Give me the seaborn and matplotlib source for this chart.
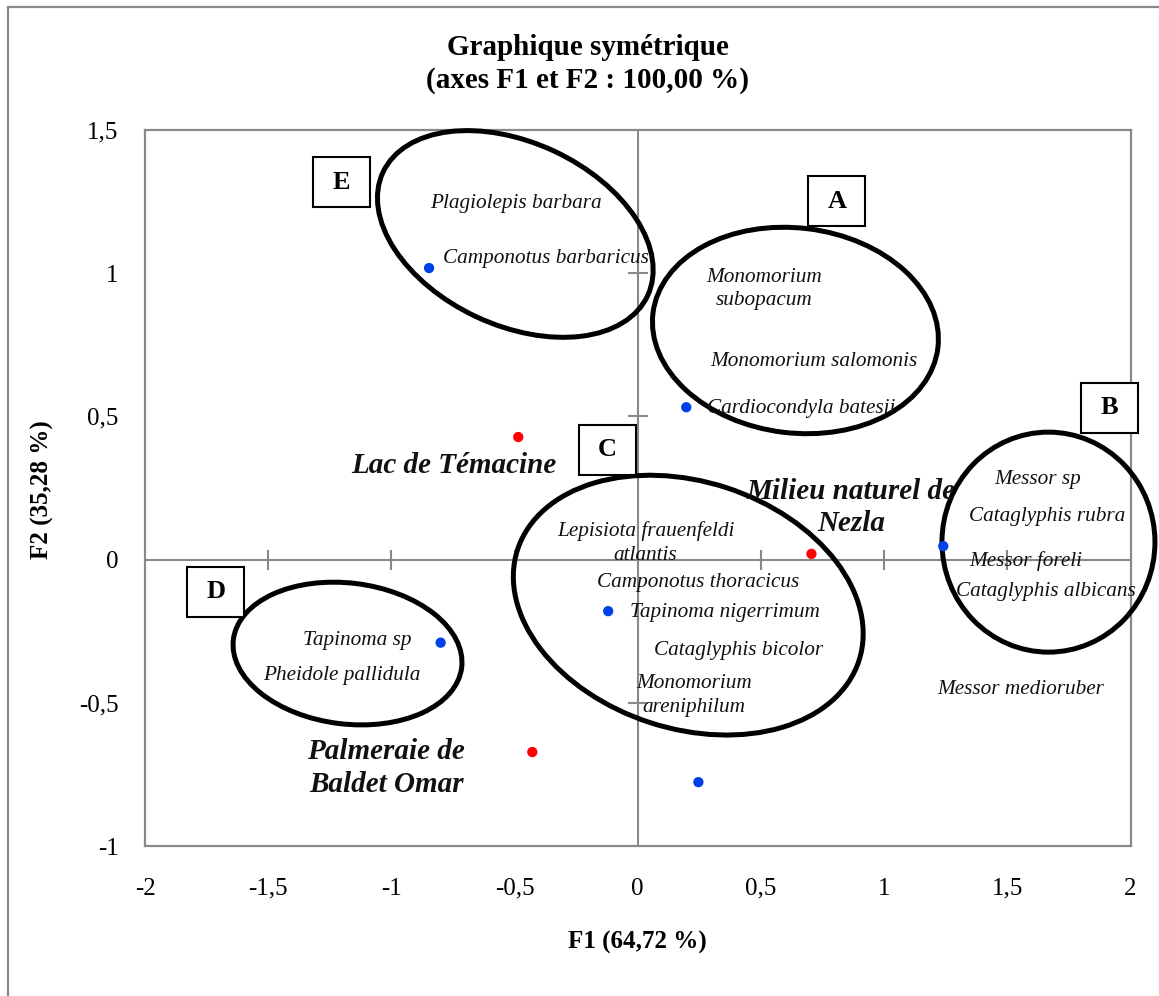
import matplotlib
matplotlib.use("Agg")
import matplotlib.pyplot as plt
import matplotlib.transforms as mtransforms
from matplotlib.patches import Ellipse, Rectangle
import seaborn as sns
import pandas as pd

# --- CA coordinates (F1, F2) ---
site_names = ["Lac de Témacine", "Milieu naturel de\nNezla", "Palmeraie de\nBaldet Omar"]
site_f1 = [-0.485, 0.705, -0.428]
site_f2 = [0.428, 0.020, -0.672]

species_f1 = [-0.847, 0.197, 1.240, -0.120, -0.800, 0.246]
species_f2 = [1.018, 0.532, 0.047, -0.180, -0.290, -0.777]

# species labels and where they sit on the map (F1, F2)
species_labels = [
    "Plagiolepis barbara", "Camponotus barbaricus", "Monomorium\nsubopacum",
    "Monomorium salomonis", "Cardiocondyla batesii", "Messor sp",
    "Cataglyphis rubra", "Messor foreli", "Cataglyphis albicans",
    "Messor medioruber", "Lepisiota frauenfeldi\natlantis",
    "Camponotus thoracicus", "Tapinoma nigerrimum", "Cataglyphis bicolor",
    "Monomorium\nareniphilum", "Tapinoma sp", "Pheidole pallidula",
]
species_label_f1 = [-0.493, -0.374, 0.514, 0.713, 0.662, 1.622, 1.663, 1.576,
                    1.655, 1.553, 0.032, 0.244, 0.355, 0.408, 0.229, -1.139, -1.202]
species_label_f2 = [1.245, 1.050, 0.945, 0.690, 0.529, 0.281, 0.149, -0.005,
                    -0.113, -0.455, 0.058, -0.081, -0.183, -0.316, -0.476, -0.284, -0.406]

site_label_f1 = [-0.747, 0.867, -1.021]
site_label_f2 = [0.330, 0.183, -0.728]

# groups: letter, box centre, ellipse centre, ellipse size (inches) and tilt
group_letters = ["E", "A", "B", "C", "D"]
group_box_f1 = [-1.202, 0.808, 1.913, -0.124, -1.712]
group_box_f2 = [1.318, 1.252, 0.531, 0.384, -0.113]
ellipse_f1 = [-0.497, 0.640, 1.667, 0.205, -1.178]
ellipse_f2 = [1.137, 0.800, 0.061, -0.159, -0.328]
ellipse_w = [2.92, 2.87, 2.13, 3.59, 2.30]
ellipse_h = [1.83, 2.05, 2.20, 2.47, 1.41]
ellipse_angle = [-25, -7, 0, -18, -7]

xticks = [-2, -1.5, -1, -0.5, 0, 0.5, 1, 1.5, 2]
yticks = [-1, -0.5, 0, 0.5, 1, 1.5]

sns.set_theme(style="white")
serif = ["Liberation Serif", "DejaVu Serif"]
plt.rcParams["font.family"] = serif
plt.rcParams["text.color"] = "black"
plt.rcParams["axes.labelcolor"] = "black"

W, H = 1159, 996
fig = plt.figure(figsize=(W / 100, H / 100), dpi=100)
ax = fig.add_axes([145 / W, 1 - 846 / H, (1130.5 - 145) / W, (846 - 130) / H])

grey = "#898989"

# chart frame around the whole figure
fig.patches.append(Rectangle((8 / W, -0.2), 1.5, (989 / H) + 0.2,
                             transform=fig.transFigure, fill=False,
                             edgecolor=grey, linewidth=1.6, zorder=0))

# axes through the origin with cross ticks
ax.axhline(0, color=grey, lw=1.5, zorder=1)
ax.axvline(0, color=grey, lw=1.5, zorder=1)
xt_inner = [t for t in xticks if t not in (0, xticks[0], xticks[-1])]
yt_inner = [t for t in yticks if t not in (0, yticks[0], yticks[-1])]
ax.plot(xt_inner, [0] * len(xt_inner), ls="none", marker="|", ms=14,
        mew=1.5, color=grey, zorder=1)
ax.plot([0] * len(yt_inner), yt_inner, ls="none", marker="_", ms=14,
        mew=1.5, color=grey, zorder=1)

pts = pd.DataFrame({
    "F1": site_f1 + species_f1,
    "F2": site_f2 + species_f2,
    "kind": ["site"] * len(site_f1) + ["species"] * len(species_f1),
})
sns.scatterplot(data=pts, x="F1", y="F2", hue="kind",
                palette={"site": "#ff0000", "species": "#0040e8"},
                s=55, linewidth=0, legend=False, ax=ax, zorder=4)

# species labels
for lab, x, y in zip(species_labels, species_label_f1, species_label_f2):
    ax.text(x, y, lab, ha="center", va="center", fontsize=15.3,
            style="italic", color="#111111", linespacing=1.35, zorder=5)

# site labels
for lab, x, y in zip(site_names, site_label_f1, site_label_f2):
    ax.text(x, y, lab, ha="center", va="center", fontsize=21,
            style="italic", fontweight="bold", color="#111111",
            linespacing=1.25, zorder=5)

# group ellipses
for cx, cy, w, h, ang in zip(ellipse_f1, ellipse_f2, ellipse_w, ellipse_h, ellipse_angle):
    tr = fig.dpi_scale_trans + mtransforms.ScaledTranslation(cx, cy, ax.transData)
    ax.add_patch(Ellipse((0, 0), w, h, angle=ang, transform=tr, fill=False,
                         edgecolor="black", linewidth=3.6, zorder=3,
                         clip_on=False))

# group letter boxes
for letter, cx, cy in zip(group_letters, group_box_f1, group_box_f2):
    tr = fig.dpi_scale_trans + mtransforms.ScaledTranslation(cx, cy, ax.transData)
    ax.add_patch(Rectangle((-0.285, -0.25), 0.57, 0.50, transform=tr,
                           facecolor="white", edgecolor="black", linewidth=1.5,
                           zorder=6, clip_on=False))
    ax.text(cx, cy, letter, ha="center", va="center", fontsize=19,
            fontweight="bold", zorder=7)

ax.set_xlim(xticks[0], xticks[-1])
ax.set_ylim(yticks[0], yticks[-1])
ax.set_xticks(xticks)
ax.set_yticks(yticks)
ax.set_xticklabels([f"{t:g}".replace(".", ",") for t in xticks])
ax.set_yticklabels([f"{t:g}".replace(".", ",") for t in yticks])
ax.tick_params(axis="both", length=0, labelsize=18, colors="black")
ax.tick_params(axis="x", pad=23)
ax.tick_params(axis="y", pad=19)
ax.set_xlabel("")
ax.set_ylabel("")
for sp in ax.spines.values():
    sp.set_color(grey)
    sp.set_linewidth(1.6)

fig.text(637 / W, 1 - 942 / H, "F1 (64,72 %)", ha="center", va="center",
         fontsize=18, fontweight="bold")
fig.text(42 / W, 1 - 490 / H, "F2 (35,28 %)", ha="center", va="center",
         fontsize=18, fontweight="bold", rotation=90)
fig.text(588 / W, 1 - 64 / H, "Graphique symétrique\n(axes F1 et F2 : 100,00 %)",
         ha="center", va="center", fontsize=21, fontweight="bold",
         linespacing=1.27)

fig.savefig("out.png", dpi=100)
